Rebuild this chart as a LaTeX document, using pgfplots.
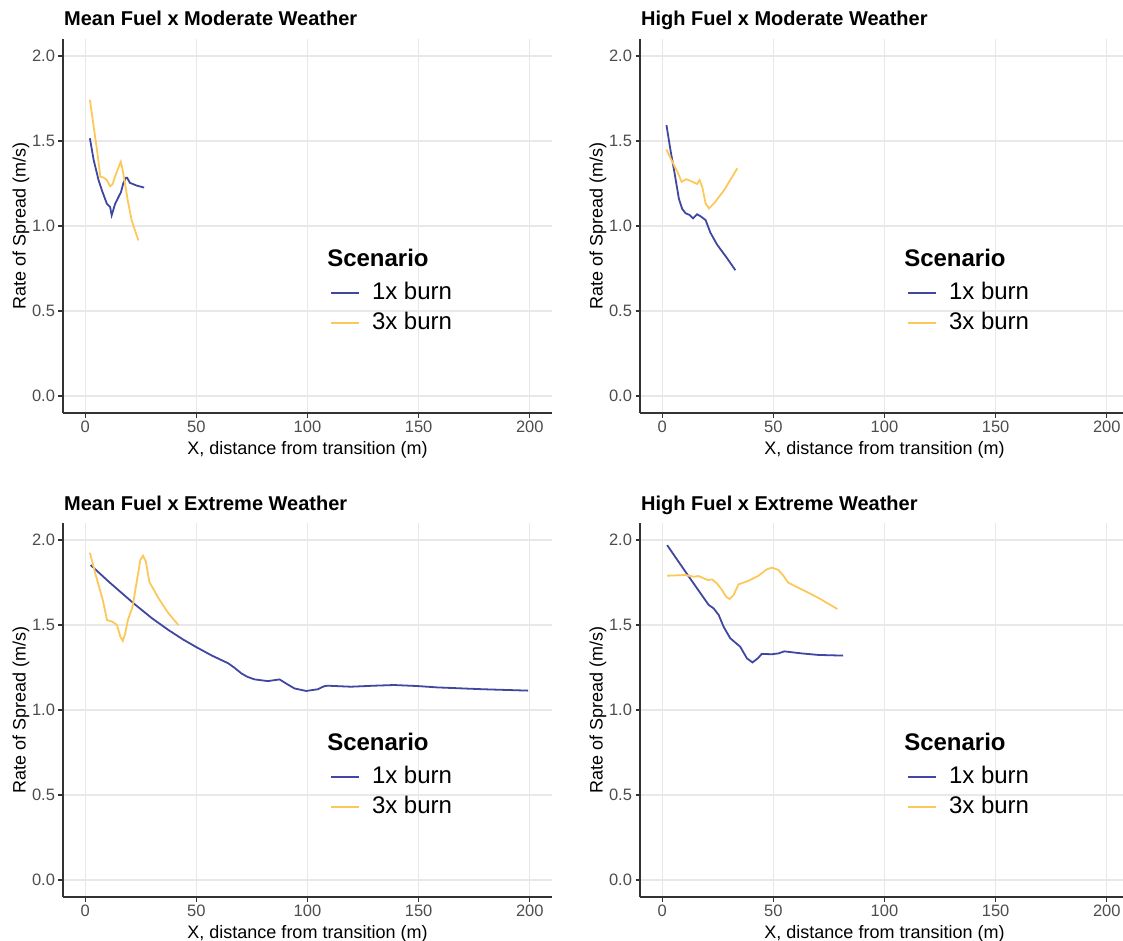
\documentclass[border=0pt]{standalone}
\usepackage{fontspec}
\setmainfont{Liberation Sans}
\usepackage{pgfplots}
\pgfplotsset{compat=1.18}
\definecolor{burn1}{HTML}{3F47A0}
\definecolor{burn3}{HTML}{FDC85A}
\definecolor{gridc}{HTML}{E8E8E8}
\definecolor{axc}{HTML}{333333}
\definecolor{tickc}{HTML}{4D4D4D}

\pgfplotsset{
  rospanel/.style={
    scale only axis, width=489pt, height=374pt,
    xmin=-10, xmax=210, ymin=-0.1, ymax=2.1,
    xtick={0,50,100,150,200}, ytick={0,0.5,1.0,1.5,2.0},
    yticklabel style={/pgf/number format/fixed, /pgf/number format/fixed zerofill, /pgf/number format/precision=1},
    /pgf/number format/assume math mode=true,
    axis lines*=left, axis line style={axc, line width=1.2pt},
    tick align=outside, major tick length=4.5pt, tick style={axc, line width=1.2pt},
    grid=major, major grid style={gridc, line width=1.3pt},
    ticklabel style={font=\fontsize{16.5}{18}\selectfont, text=tickc},
    label style={font=\fontsize{18}{20}\selectfont},
    xlabel={X, distance from transition (m)},
    ylabel={Rate of Spread (m/s)},
    xlabel style={at={(axis description cs:0.5,-0.099)}, anchor=center},
    ylabel style={at={(axis description cs:-0.086,0.5)}, anchor=center},
    title style={at={(axis description cs:0,1)}, anchor=base west, inner sep=0pt,
      xshift=1pt, yshift=7pt, font=\bfseries\fontsize{20}{22}\selectfont},
    legend style={at={(axis description cs:0.546,0.35)}, anchor=north west,
      draw=none, fill=none, inner sep=0pt, row sep=8pt,
      nodes={inner sep=0pt, text height=17pt, text depth=5pt},
      font=\fontsize{24}{26}\selectfont, cells={anchor=west}},
    legend image code/.code={\draw[#1, line width=1.8pt] (0pt,0pt) -- (28pt,0pt); \path (40pt,0pt);},
    every axis plot/.append style={line width=1.8pt},
  },
}
\newcommand{\scenario}{\node[anchor=west, inner sep=0pt, font=\bfseries\fontsize{24}{26}\selectfont]
  at (axis description cs:0.540,0.414) {Scenario};}

\begin{document}
\begin{tikzpicture}
\path[use as bounding box] (0pt,0pt) rectangle (1123pt,-941pt);

% Mean Fuel x Moderate Weather
\begin{axis}[rospanel, at={(63pt,-413pt)}, anchor=south west,
  title={Mean Fuel x Moderate Weather}]
\addplot[burn1] coordinates {
  (2.1,1.516) (3.8,1.388) (6.0,1.27) (7.5,1.21) (9.7,1.132) (11.2,1.112)
  (11.9,1.063) (13.4,1.128) (14.6,1.161) (16.1,1.2) (17.1,1.25) (18.2,1.283)
  (18.9,1.283) (20.1,1.254) (23.1,1.238) (26.5,1.226)
};
\addplot[burn3] coordinates {
  (2.1,1.742) (3.8,1.585) (5.3,1.447) (6.8,1.29) (8.3,1.285) (9.7,1.27)
  (11.2,1.234) (12.3,1.246) (13.4,1.29) (14.5,1.329) (16.0,1.378) (16.7,1.339)
  (17.9,1.25) (19.1,1.152) (20.9,1.033) (23.9,0.915)
};
\addlegendentry{1x burn}
\addlegendentry{3x burn}
\scenario
\end{axis}

% High Fuel x Moderate Weather
\begin{axis}[rospanel, at={(640pt,-413pt)}, anchor=south west,
  title={High Fuel x Moderate Weather}]
\addplot[burn1] coordinates {
  (1.9,1.594) (3.7,1.447) (5.3,1.33) (7.5,1.16) (9.0,1.1) (10.5,1.075)
  (12.3,1.065) (13.8,1.045) (15.7,1.069) (17.5,1.055) (19.5,1.035) (21.7,0.96)
  (24.7,0.89) (29.2,0.81) (32.9,0.74)
};
\addplot[burn3] coordinates {
  (1.9,1.45) (4.5,1.378) (6.8,1.32) (8.7,1.26) (10.8,1.275) (12.8,1.265)
  (15.7,1.247) (16.8,1.27) (18.0,1.23) (19.5,1.133) (21.0,1.103) (23.3,1.133)
  (27.8,1.21) (33.8,1.34)
};
\addlegendentry{1x burn}
\addlegendentry{3x burn}
\scenario
\end{axis}

% Mean Fuel x Extreme Weather
\begin{axis}[rospanel, at={(63pt,-897pt)}, anchor=south west,
  title={Mean Fuel x Extreme Weather}]
\addplot[burn1] coordinates {
  (2.4,1.853) (11,1.75) (21.8,1.627) (30,1.54) (37.5,1.47) (44,1.415)
  (50.1,1.369) (57,1.32) (64.3,1.275) (67,1.25) (70.3,1.215) (73,1.195)
  (76.2,1.18) (82.2,1.17) (87.4,1.18) (90.5,1.155) (94.1,1.127) (99.4,1.112)
  (104.6,1.122) (107.5,1.14) (109.1,1.143) (119.5,1.137) (130,1.143)
  (138.9,1.147) (149.4,1.141) (158.3,1.133) (179.2,1.122) (199.3,1.114)
};
\addplot[burn3] coordinates {
  (2.1,1.925) (4.6,1.80) (7.9,1.647) (9.8,1.529) (12.1,1.52) (14.3,1.5)
  (15.8,1.431) (16.9,1.406) (18.0,1.451) (19.2,1.53) (21.3,1.608) (23.3,1.765)
  (24.8,1.882) (26.0,1.908) (27.3,1.872) (28.8,1.755) (33.0,1.657)
  (37.5,1.568) (41.9,1.5)
};
\addlegendentry{1x burn}
\addlegendentry{3x burn}
\scenario
\end{axis}

% High Fuel x Extreme Weather
\begin{axis}[rospanel, at={(640pt,-897pt)}, anchor=south west,
  title={High Fuel x Extreme Weather}]
\addplot[burn1] coordinates {
  (2.2,1.97) (12,1.784) (20.9,1.618) (23.1,1.598) (25.4,1.559) (27.6,1.49)
  (30.6,1.422) (35.1,1.372) (38.1,1.304) (40.6,1.28) (43,1.304) (44.8,1.33)
  (49.3,1.328) (52.3,1.333) (54.9,1.345) (62.7,1.333) (70.2,1.324) (81.4,1.32)
};
\addplot[burn3] coordinates {
  (2.2,1.79) (10.4,1.794) (14.2,1.784) (16.4,1.788) (18.7,1.774) (20.6,1.765)
  (22.4,1.768) (24.6,1.745) (26.9,1.706) (28.7,1.667) (30.3,1.653) (32.1,1.676)
  (34.3,1.739) (38.8,1.76) (43.3,1.79) (47,1.827) (49.3,1.837) (52.3,1.824)
  (54.5,1.79) (56.7,1.749) (62.7,1.71) (70.2,1.66) (78.8,1.594)
};
\addlegendentry{1x burn}
\addlegendentry{3x burn}
\scenario
\end{axis}
\end{tikzpicture}
\end{document}
